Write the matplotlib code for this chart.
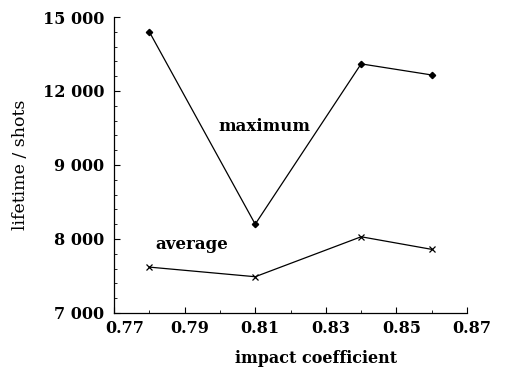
import matplotlib.pyplot as plt
import matplotlib.transforms as mtransforms
import numpy as np

# impact coefficient vs. lifetime (shots)
coeff = [0.78, 0.81, 0.84, 0.86]
maximum = [14400, 8200, 13100, 12650]
average = [7620, 7490, 8030, 7860]

ytick_values = [7000, 8000, 9000, 12000, 15000]
ytick_labels = ["7 000", "8 000", "9 000", "12 000", "15 000"]
yminor = [7200, 7400, 7600, 7800, 8200, 8400, 8600, 8800,
          9600, 10200, 10800, 11400, 12600, 13200, 13800, 14400]
xticks = [0.77, 0.79, 0.81, 0.83, 0.85, 0.87]

# uneven axis: the major ticks sit at equal spacing
slots = np.arange(len(ytick_values), dtype=float)


def forward(v):
    return np.interp(v, ytick_values, slots)


def inverse(v):
    return np.interp(v, slots, ytick_values)


plt.rcParams["font.family"] = "DejaVu Serif"

fig = plt.figure(figsize=(5.15, 3.68), dpi=100)
ax = fig.add_axes([0.2214, 0.1495, 0.6854, 0.8043])
ax.set_yscale("function", functions=(forward, inverse))

ax.plot(coeff, maximum, "-", color="black", lw=0.9,
        marker="D", ms=3.2, mfc="black", mec="black")
ax.plot(coeff, average, "-", color="black", lw=0.9,
        marker="x", ms=4, mew=0.9)

ax.text(0.8127, 10580, "maximum", fontsize=12, fontweight="bold",
        ha="center", va="center")
ax.text(0.792, 7930, "average", fontsize=12, fontweight="bold",
        ha="center", va="center")

ax.set_xlim(0.77, 0.87)
ax.set_ylim(7000, 15000)
ax.set_xticks(xticks)
ax.set_xticklabels([f"{v:.2f}" for v in xticks])
ax.set_xticks(np.arange(0.78, 0.87, 0.02), minor=True)
ax.set_yticks(ytick_values)
ax.set_yticklabels(ytick_labels)
ax.set_yticks(yminor, minor=True)

for lab in ax.get_xticklabels() + ax.get_yticklabels():
    lab.set_fontweight("bold")
    lab.set_fontsize(11.5)

ax.tick_params(direction="in", length=4, width=0.8)
ax.tick_params(axis="y", pad=7)
ax.tick_params(axis="x", pad=5)
ax.tick_params(which="minor", direction="in", length=2, width=0.6)

# x labels sit a little right of their ticks, the first one more so
for i, lab in enumerate(ax.get_xticklabels()):
    dx = 11 if i == 0 else 5
    shift = mtransforms.ScaledTranslation(dx / 100, 0, fig.dpi_scale_trans)
    lab.set_transform(lab.get_transform() + shift)

ax.spines["top"].set_visible(False)
ax.spines["right"].set_visible(False)
for s in ("left", "bottom"):
    ax.spines[s].set_linewidth(0.9)

ax.set_xlabel("impact coefficient", fontsize=11.5, fontweight="bold", labelpad=8)
ax.xaxis.set_label_coords(0.572, -0.125)
ax.set_ylabel("lifetime / shots", fontsize=12.5, labelpad=10)

fig.savefig("out.png", dpi=100)
